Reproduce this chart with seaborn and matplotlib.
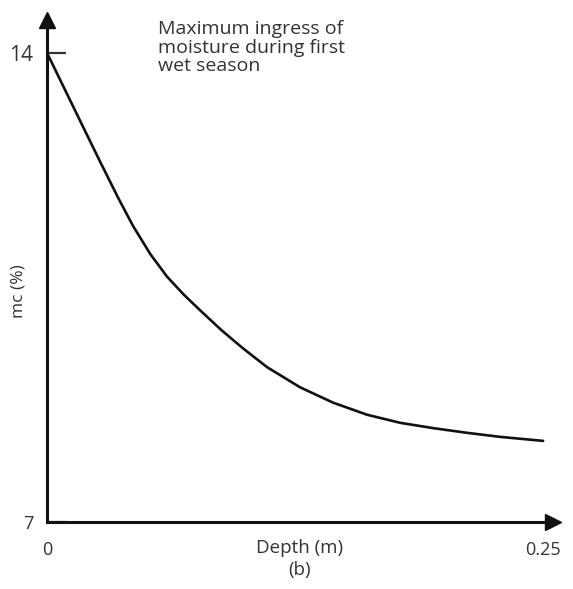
import matplotlib
matplotlib.use("Agg")
import matplotlib.pyplot as plt
import numpy as np
import pandas as pd
import seaborn as sns

# values
depth = [0.0, 0.0181, 0.0267, 0.0358, 0.0433, 0.0520, 0.0605, 0.0690,
         0.0771, 0.0880, 0.0988, 0.1109, 0.1275, 0.1442, 0.1613, 0.1779,
         0.1946, 0.2117, 0.2283, 0.2500]
mc = [14.0, 12.90, 12.38, 11.84, 11.42, 11.00, 10.66, 10.39,
      10.16, 9.86, 9.59, 9.31, 9.01, 8.78, 8.60, 8.48,
      8.40, 8.33, 8.27, 8.21]

x_ticks = [0, 0.25]
x_tick_labels = ["0", "0.25"]
y_ticks = [7, 14]
y_tick_labels = ["7", "14"]

note = "Maximum ingress of\nmoisture during first\nwet season"

sns.set_style("white")
plt.rcParams['font.family'] = ['Open Sans', 'DejaVu Sans']

df = pd.DataFrame({"depth": depth, "mc": mc})

fig = plt.figure(figsize=(5.73, 5.89), dpi=100)
ax = fig.add_axes([0.082, 0.1138, 0.8831, 0.8523])

sns.lineplot(data=df, x="depth", y="mc", ax=ax, color="#111111",
             linewidth=1.9, sort=False)

ax.set_xlim(0, 0.255)
ax.set_ylim(7, 14.49)

for side in ["top", "right"]:
    ax.spines[side].set_visible(False)
for side in ["left", "bottom"]:
    ax.spines[side].set_linewidth(2.2)
    ax.spines[side].set_color("#111111")

# arrow heads on the axes
ax.plot([0], [1], marker="^", markersize=12, color="#111111",
        transform=ax.transAxes, clip_on=False)
ax.plot([1], [0], marker=">", markersize=12, color="#111111",
        transform=ax.transAxes, clip_on=False)

ax.set_xticks(x_ticks)
ax.set_xticklabels(x_tick_labels)
ax.set_yticks(y_ticks)
ax.set_yticklabels(y_tick_labels)
ax.tick_params(axis="x", length=0, pad=14, labelsize=13, colors="#333333")
ax.tick_params(axis="y", left=True, direction="in", length=14, width=1.6,
               pad=10, labelsize=13, colors="#333333")
for t in ax.yaxis.get_ticklines():
    t.set_color("#111111")
ax.get_yticklabels()[1].set_fontsize(15)

ax.set_xlabel("Depth (m)\n(b)", fontsize=13.5, color="#333333",
              linespacing=1.3, va="top")
ax.xaxis.set_label_coords(0.5, -0.034)
ax.set_ylabel("mc (%)", fontsize=12.5, color="#333333")
ax.yaxis.set_label_coords(-0.04, 0.46)

ax.text(0.22, 1.0, note, transform=ax.transAxes, fontsize=14,
        va="top", ha="left", color="#333333", linespacing=1.05)

fig.savefig("out.png", dpi=100)
